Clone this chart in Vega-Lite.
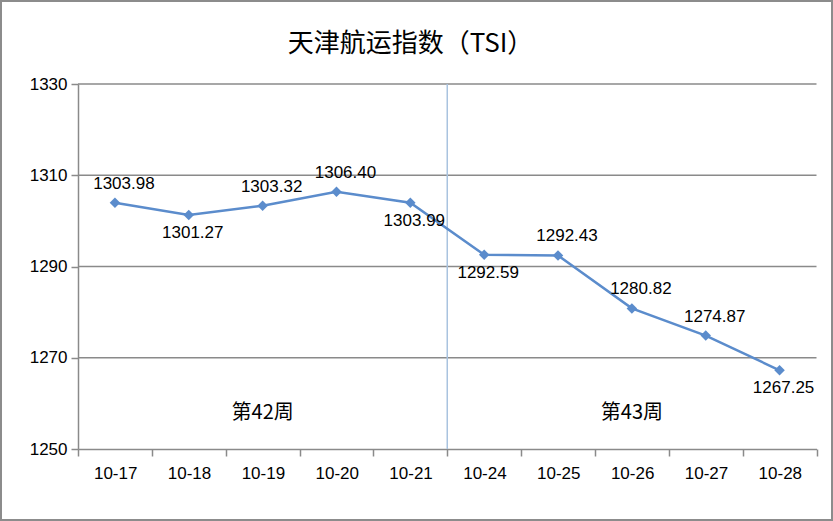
{
  "$schema": "https://vega.github.io/schema/vega-lite/v6.json",
  "width": 833,
  "height": 521,
  "autosize": {"type": "none"},
  "padding": 0,
  "background": "white",
  "config": {
    "view": {"stroke": "#8c8c8c", "strokeWidth": 4},
    "font": "Liberation Sans"
  },
  "datasets": {
    "tsi": [
      {"date": "10-17", "value": 1303.98},
      {"date": "10-18", "value": 1301.27},
      {"date": "10-19", "value": 1303.32},
      {"date": "10-20", "value": 1306.40},
      {"date": "10-21", "value": 1303.99},
      {"date": "10-24", "value": 1292.59},
      {"date": "10-25", "value": 1292.43},
      {"date": "10-26", "value": 1280.82},
      {"date": "10-27", "value": 1274.87},
      {"date": "10-28", "value": 1267.25}
    ],
    "grid": [{"g": 1270}, {"g": 1290}, {"g": 1310}, {"g": 1330}],
    "weeks": [
      {"date": "10-19", "y": 1258, "label": "第42周"},
      {"date": "10-26", "y": 1258, "label": "第43周"}
    ]
  },
  "title": {
    "text": "天津航运指数（TSI）",
    "font": "Noto Sans CJK SC",
    "fontSize": 26,
    "fontWeight": "normal",
    "color": "#000000",
    "anchor": "middle",
    "frame": "group",
    "orient": "top",
    "baseline": "middle",
    "offset": -70,
    "dx": -6
  },
  "layer": [
    {
      "data": {"name": "grid"},
      "mark": {"type": "rule", "color": "#8a8a8a", "strokeWidth": 1.5},
      "encoding": {
        "y": {"field": "g", "type": "quantitative", "scale": {"domain": [1250, 1330], "range": [449, 84], "nice": false, "zero": false}},
        "x": {"datum": "10-17", "bandPosition": 0, "type": "ordinal"},
        "x2": {"datum": "10-28", "bandPosition": 1}
      }
    },
    {
      "data": {"values": [{"a": 1}]},
      "mark": {"type": "rule", "color": "#a9c3df", "strokeWidth": 1.5},
      "encoding": {
        "x": {"datum": "10-24", "bandPosition": 0, "type": "ordinal"},
        "y": {"datum": 1330, "type": "quantitative"},
        "y2": {"datum": 1250}
      }
    },
    {
      "data": {"name": "tsi"},
      "mark": {"type": "line", "color": "#5b8ccc", "strokeWidth": 2.5},
      "encoding": {
        "x": {
          "field": "date", "type": "ordinal", "sort": null,
          "scale": {
            "domain": ["10-17", "10-18", "10-19", "10-20", "10-21", "10-24", "10-25", "10-26", "10-27", "10-28"],
            "range": [78, 816.5], "paddingInner": 0, "paddingOuter": 0
          },
          "axis": {
            "orient": "bottom", "offset": -72, "title": null,
            "labelAngle": 0, "labelFontSize": 17, "labelColor": "#000000",
            "labelPadding": 17, "labelOffset": 22, "tickBand": "extent", "tickSize": 7,
            "tickColor": "#8a8a8a", "tickWidth": 1.5,
            "domainColor": "#8a8a8a", "domainWidth": 1.5, "grid": false,
            "labelFont": "Liberation Sans"
          }
        },
        "y": {
          "field": "value", "type": "quantitative",
          "axis": {
            "orient": "left", "offset": -78, "title": null,
            "values": [1250, 1270, 1290, 1310, 1330], "format": "d",
            "labelFontSize": 17, "labelColor": "#000000", "labelPadding": 4,
            "tickSize": 7, "tickColor": "#8a8a8a", "tickWidth": 1.5,
            "domainColor": "#8a8a8a", "domainWidth": 1.5, "grid": false,
            "labelFont": "Liberation Sans"
          }
        }
      }
    },
    {
      "data": {"name": "tsi"},
      "mark": {"type": "point", "shape": "diamond", "filled": true, "color": "#5b8ccc", "size": 110, "opacity": 1},
      "encoding": {
        "x": {"field": "date", "type": "ordinal", "sort": null},
        "y": {"field": "value", "type": "quantitative"}
      }
    },
    {
      "data": {"name": "tsi"},
      "transform": [{"filter": {"field": "date", "oneOf": ["10-17", "10-19", "10-20", "10-25", "10-26", "10-27"]}}],
      "mark": {"type": "text", "fontSize": 17, "dy": -19, "dx": 9, "baseline": "middle", "color": "#000000"},
      "encoding": {
        "x": {"field": "date", "type": "ordinal", "sort": null},
        "y": {"field": "value", "type": "quantitative"},
        "text": {"field": "value", "type": "quantitative", "format": ".2f"}
      }
    },
    {
      "data": {"name": "tsi"},
      "transform": [{"filter": {"field": "date", "oneOf": ["10-18", "10-21", "10-24", "10-28"]}}],
      "mark": {"type": "text", "fontSize": 17, "dy": 18, "dx": 4, "baseline": "middle", "color": "#000000"},
      "encoding": {
        "x": {"field": "date", "type": "ordinal", "sort": null},
        "y": {"field": "value", "type": "quantitative"},
        "text": {"field": "value", "type": "quantitative", "format": ".2f"}
      }
    },
    {
      "data": {"name": "weeks"},
      "mark": {"type": "text", "fontSize": 20, "font": "Noto Sans CJK SC", "baseline": "middle", "color": "#000000"},
      "encoding": {
        "x": {"field": "date", "type": "ordinal", "sort": null},
        "y": {"field": "y", "type": "quantitative"},
        "text": {"field": "label"}
      }
    }
  ]
}
